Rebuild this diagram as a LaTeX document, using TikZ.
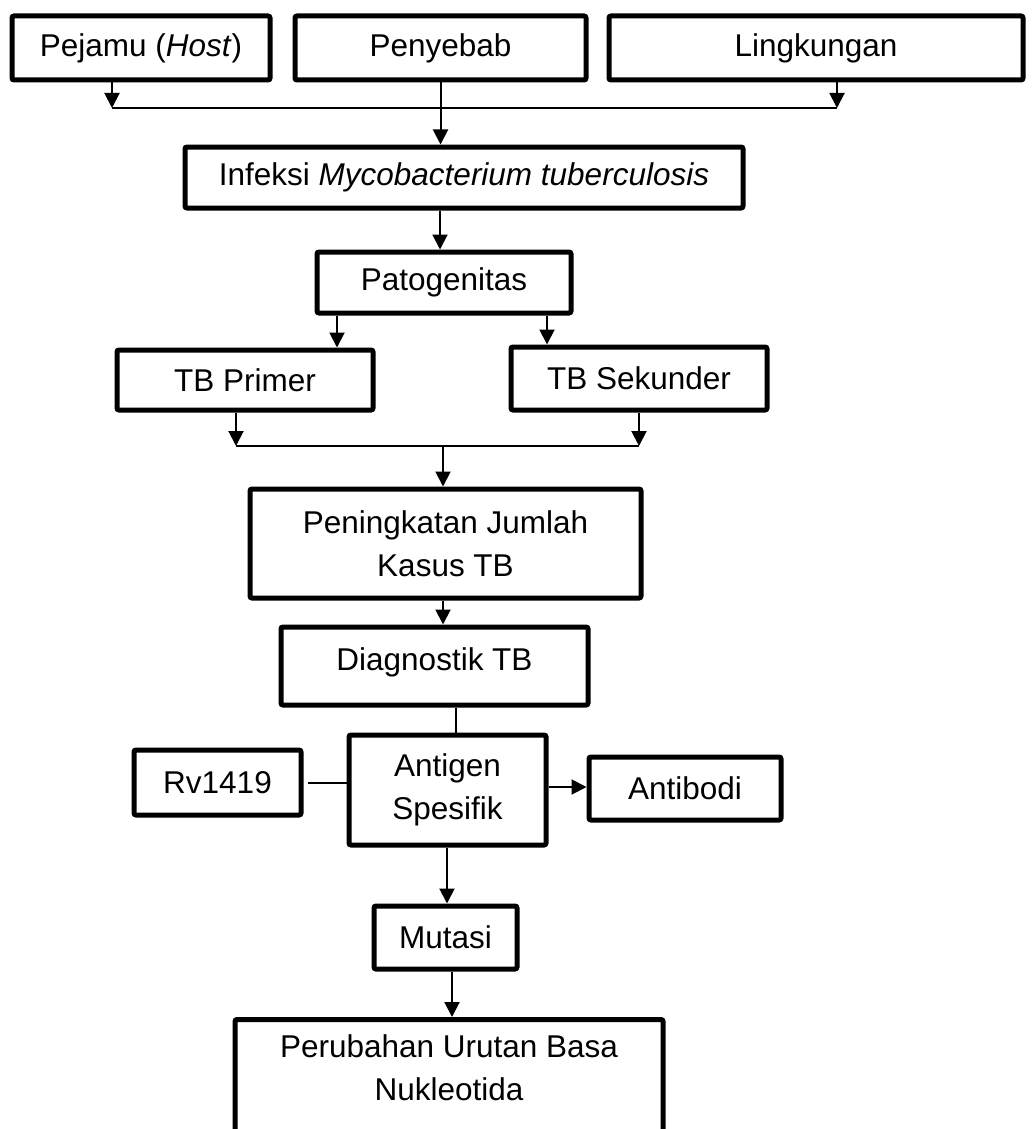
\documentclass[tikz,border=0pt]{standalone}
\usepackage{fontspec}
\setmainfont{Liberation Sans}
\usetikzlibrary{arrows.meta}
\begin{document}
\begin{tikzpicture}[x=1pt,y=-1pt,
  box/.style={draw, line width=5pt, rounded corners=2pt, inner sep=0pt, align=center,
    font=\fontsize{31.5}{42.5}\selectfont},
  conn/.style={line width=2pt},
  arr/.style={line width=2pt, -{Triangle[length=15pt,width=15pt]}}]
\clip (0,0) rectangle (1032,1129);
\fill[white] (0,0) rectangle (1032,1129);
% top row
\node[box, minimum width=258, minimum height=64] (host) at (141,48) {Pejamu (\textit{Host})};
\node[box, minimum width=291, minimum height=64] (cause) at (440.5,48) {Penyebab};
\node[box, minimum width=414, minimum height=64] (env) at (816,48) {Lingkungan};
\coordinate (b1) at (112,108);
\coordinate (b2) at (837,108);
\node[box, minimum width=558, minimum height=61] (inf) at (464,177.5) {Infeksi \textit{Mycobacterium tuberculosis}};
\node[box, minimum width=254, minimum height=61] (pato) at (444,282.5) {Patogenitas};
\node[box, minimum width=256, minimum height=60] (prim) at (245,380) {TB Primer};
\node[box, minimum width=256, minimum height=63] (sek) at (639,378.5) {TB Sekunder};
\coordinate (b3) at (236,446);
\coordinate (b4) at (639,446);
\coordinate (b5) at (443,446);
\node[box, minimum width=391, minimum height=109] (naik) at (445.5,543.5) {Peningkatan Jumlah\\Kasus TB};
\node[box, minimum width=307, minimum height=78, text depth=14pt] (diag) at (434.5,666) {Diagnostik TB};
\node[box, minimum width=197, minimum height=110] (anti) at (447.5,790) {Antigen\\Spesifik};
\node[box, minimum width=167, minimum height=65] (rv) at (217.5,782.5) {Rv1419};
\node[box, minimum width=192, minimum height=63] (ab) at (685,788.5) {Antibodi};
\node[box, minimum width=143, minimum height=63] (mut) at (445.5,937.5) {Mutasi};
\node[box, minimum width=428, minimum height=170, anchor=north, text depth=74pt] (per) at (449,1017) {Perubahan Urutan Basa\\Nukleotida};
% connectors
\draw[arr] (host.south -| b1) -- (b1);
\draw[arr] (env.south -| b2) -- (b2);
\draw[conn] (b1) -- (b2);
\draw[arr] (cause.south) -- (inf.north -| cause.south);
\draw[arr] (inf.south -| 440,0) -- (pato.north -| 440,0);
\draw[arr] (pato.south -| 337,0) -- (prim.north -| 337,0);
\draw[arr] (pato.south -| 547,0) -- (sek.north -| 547,0);
\draw[arr] (prim.south -| b3) -- (b3);
\draw[arr] (sek.south -| b4) -- (b4);
\draw[conn] (b3) -- (b4);
\draw[arr] (b5) -- (naik.north -| b5);
\draw[arr] (naik.south -| 443,0) -- (diag.north -| 443,0);
\draw[conn] (diag.south -| 456,0) -- (anti.north -| 456,0);
\draw[conn, shorten <=4pt] (rv.east) -- (anti.west |- rv.east);
\draw[arr] (anti.east |- 0,787) -- (ab.west |- 0,787);
\draw[arr] (anti.south -| 447,0) -- (mut.north -| 447,0);
\draw[arr] (mut.south -| 452,0) -- (per.north -| 452,0);
\end{tikzpicture}
\end{document}
